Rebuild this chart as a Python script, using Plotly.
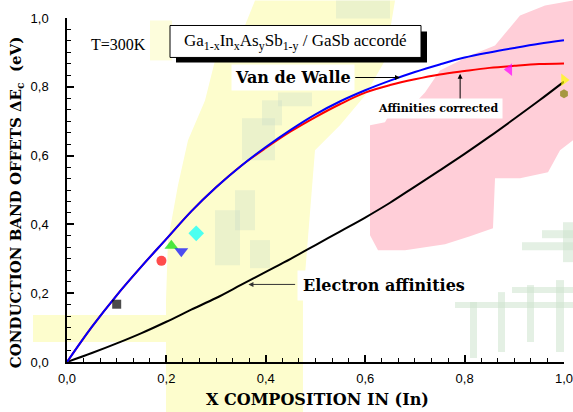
import plotly.graph_objects as go

# ---------------- data ----------------
x_comp = [0.0, 0.05, 0.10, 0.15, 0.20, 0.25, 0.30, 0.35, 0.40, 0.45, 0.50,
          0.55, 0.60, 0.65, 0.70, 0.75, 0.80, 0.85, 0.90, 0.95, 1.0]
van_de_walle = [0.0, 0.102, 0.194, 0.278, 0.358, 0.438, 0.508, 0.570, 0.625, 0.675, 0.720,
                0.758, 0.790, 0.818, 0.843, 0.865, 0.885, 0.900, 0.913, 0.925, 0.935]
aff_corrected = [0.0, 0.102, 0.194, 0.278, 0.358, 0.438, 0.508, 0.570, 0.622, 0.670, 0.712,
                 0.750, 0.783, 0.805, 0.822, 0.836, 0.846, 0.855, 0.861, 0.866, 0.868]
electron_aff = [0.0, 0.026, 0.054, 0.084, 0.117, 0.152, 0.186, 0.224, 0.262, 0.300, 0.340,
                0.380, 0.420, 0.463, 0.510, 0.557, 0.605, 0.655, 0.707, 0.760, 0.815]

exp_x = [0.10, 0.19, 0.21, 0.23, 0.26, 0.89, 1.00, 1.00]
exp_y = [0.168, 0.294, 0.338, 0.322, 0.374, 0.850, 0.820, 0.780]
exp_symbols = ["square", "circle", "triangle-up", "triangle-down", "diamond",
               "triangle-left", "triangle-right", "hexagon"]
exp_colors = ["#000000", "#FF0000", "#00DD00", "#0000FF", "#00FFFF",
              "#FF00FF", "#FFFF00", "#808000"]
exp_sizes = [9, 10, 12, 12, 12, 11, 11, 9]

x_ticks = [0.0, 0.2, 0.4, 0.6, 0.8, 1.0]
x_tick_text = ["0,0", "0,2", "0,4", "0,6", "0,8", "1,0"]
y_ticks = [0.0, 0.2, 0.4, 0.6, 0.8, 1.0]
y_tick_text = ["0,0", "0,2", "0,4", "0,6", "0,8", "1,0"]

# ---------------- layout geometry helpers (pixel -> paper) ----------------
L, R, T, B = 67, 9, 17.5, 50
W, H = 573, 412
PW, PH = W - L - R, H - T - B


def pp(px, py):
    return (px - L) / PW, (H - B - py) / PH


def poly(points):
    pts = [pp(a, b) for a, b in points]
    return "M " + " L ".join(f"{x:.4f},{y:.4f}" for x, y in pts) + " Z"


def rect(x0, y0, x1, y1, color, layer="below", line=None):
    a, b = pp(x0, y1)
    c, d = pp(x1, y0)
    return dict(type="rect", xref="paper", yref="paper", x0=a, y0=b, x1=c, y1=d,
                fillcolor=color, line=line or dict(width=0), layer=layer)


YEL = "rgba(253,253,205,1)"
PINK = "rgba(255,206,216,1)"
GRN = "rgba(205,228,205,0.55)"
GRN2 = "rgba(200,222,200,0.35)"

shapes = []
# yellow watermark blobs
shapes.append(dict(type="path", xref="paper", yref="paper", layer="below", line=dict(width=0),
                   fillcolor=YEL,
                   path=poly([(166, 412), (303, 412), (303, 300), (315, 150), (340, 125),
                              (365, 95), (385, 60), (395, 0), (255, 0), (245, 25),
                              (215, 60), (205, 100), (188, 140), (178, 185), (168, 240),
                              (166, 300)])))
shapes.append(rect(33, 315, 166, 342, YEL))
shapes.append(rect(150, 20, 172, 60, "rgba(253,253,220,1)"))
# pink blob
shapes.append(dict(type="path", xref="paper", yref="paper", layer="below", line=dict(width=0),
                   fillcolor=PINK,
                   path=poly([(370, 125), (385, 122), (392, 110), (410, 108), (425, 92),
                              (440, 70), (470, 55), (495, 45), (520, 15), (545, 5), (573, 0),
                              (573, 140), (560, 150), (548, 172), (520, 178), (495, 178),
                              (493, 228), (470, 236), (445, 244), (405, 250), (378, 250),
                              (370, 235)])))
# greenish blotches (middle)
for (x0, y0, x1, y1) in [(215, 210, 240, 265), (235, 190, 255, 230), (242, 118, 275, 160),
                         (262, 100, 282, 125), (278, 92, 312, 106), (336, 0, 390, 18),
                         (250, 240, 270, 268)]:
    shapes.append(rect(x0, y0, x1, y1, GRN2))
# green strokes (lower right)
for (x0, y0, x1, y1) in [(455, 302, 573, 308), (470, 302, 477, 358), (498, 292, 505, 352),
                         (527, 285, 534, 342), (556, 280, 564, 352), (512, 287, 573, 293),
                         (522, 242, 573, 250), (542, 230, 573, 238), (563, 222, 573, 262)]:
    shapes.append(rect(x0, y0, x1, y1, GRN))

# title box with drop shadow
shapes.append(rect(176, 31, 427, 62, "#000000", layer="above"))
shapes.append(rect(170, 25, 421, 57, "#FFFFFF", layer="above",
                   line=dict(color="#000000", width=1)))

fig = go.Figure()

fig.add_trace(go.Scatter(x=x_comp, y=electron_aff, mode="lines", line_shape="spline",
                         line=dict(color="#000000", width=2), showlegend=False,
                         name="Electron affinities"))
fig.add_trace(go.Scatter(x=x_comp, y=aff_corrected, mode="lines", line_shape="spline",
                         line=dict(color="#FF0000", width=2), showlegend=False,
                         name="Affinities corrected"))
fig.add_trace(go.Scatter(x=x_comp, y=van_de_walle, mode="lines", line_shape="spline",
                         line=dict(color="#0000FF", width=2), showlegend=False,
                         name="Van de Walle"))
fig.add_trace(go.Scatter(x=exp_x, y=exp_y, mode="markers", showlegend=False, cliponaxis=False,
                         marker=dict(symbol=exp_symbols, color=exp_colors, size=exp_sizes,
                                     line=dict(width=0))))

BOLD_SERIF = "DejaVu Serif"
C = dict(xanchor="center", yanchor="middle")
annotations = [
    dict(text="T=300K", xref="paper", yref="paper", x=pp(118, 0)[0], y=pp(0, 44)[1],
         showarrow=False, font=dict(family="Liberation Serif", size=16, color="#000000"), **C),
    dict(text="Ga<sub>1-x</sub>In<sub>x</sub>As<sub>y</sub>Sb<sub>1-y</sub> / GaSb accordé",
         xref="paper", yref="paper", x=pp(295, 0)[0], y=pp(0, 42)[1], showarrow=False,
         font=dict(family="Liberation Serif", size=17, color="#000000"), **C),
    # Van de Walle
    dict(text="<b>Van de Walle</b>", xref="x", yref="y", x=0.670, y=0.827,
         ax=0.580, ay=0.827, axref="x", ayref="y", showarrow=True, arrowhead=2,
         arrowsize=1, arrowwidth=1, arrowcolor="#000000", standoff=0,
         xanchor="right", yanchor="middle", bgcolor="#FFFFFF", borderpad=3,
         font=dict(family=BOLD_SERIF, size=16, color="#000000")),
    # Affinities corrected
    dict(text="", xref="x", yref="y", x=0.791, y=0.838, ax=0.791, ay=0.76,
         axref="x", ayref="y", showarrow=True, arrowhead=2, arrowsize=1, arrowwidth=1,
         arrowcolor="#000000", standoff=0),
    dict(text="<b>Affinities corrected</b>", xref="paper", yref="paper",
         x=pp(438, 0)[0], y=pp(0, 108)[1], showarrow=False, bgcolor="#FFFFFF", borderpad=3,
         font=dict(family=BOLD_SERIF, size=11, color="#000000"), **C),
    # Electron affinities
    dict(text="", xref="x", yref="y", x=0.365, y=0.2255, ax=0.462, ay=0.2255,
         axref="x", ayref="y", showarrow=True, arrowhead=2, arrowsize=1, arrowwidth=1,
         arrowcolor="#333333", standoff=0),
    dict(text="<b>Electron affinities</b>", xref="paper", yref="paper",
         x=pp(384, 0)[0], y=pp(0, 285)[1], showarrow=False, bgcolor="#FFFFFF", borderpad=5,
         font=dict(family=BOLD_SERIF, size=16, color="#000000"), **C),
    # axis titles
    dict(text="<b>X COMPOSITION IN (In)</b>", xref="paper", yref="paper",
         x=pp(317, 0)[0], y=pp(0, 400)[1], showarrow=False,
         font=dict(family=BOLD_SERIF, size=16, color="#000000"), **C),
    dict(text="<b>CONDUCTION BAND OFFETS ΔE<sub>c</sub>  (eV)</b>", xref="paper",
         yref="paper", x=pp(16, 0)[0], y=pp(0, 202)[1], showarrow=False, textangle=-90,
         font=dict(family=BOLD_SERIF, size=15, color="#000000"), **C),
]

axis_common = dict(
    showgrid=False, zeroline=False, showline=True, linecolor="#000000", linewidth=1.5,
    ticks="inside", ticklen=7, tickwidth=1.5, tickcolor="#000000", mirror=False,
    tickfont=dict(family="Liberation Sans", size=13, color="#000000"),
    range=[0, 1], automargin=False, ticklabeloverflow="allow",
    minor=dict(ticks="inside", ticklen=4, tickwidth=1.2, tickcolor="#000000",
               dtick=1 / 30, tick0=0),
)

fig.update_layout(
    width=W, height=H,
    margin=dict(l=L, r=R, t=T, b=B, pad=0),
    paper_bgcolor="#FFFFFF",
    plot_bgcolor="rgba(0,0,0,0)",
    shapes=shapes,
    annotations=annotations,
    showlegend=False,
    xaxis=dict(axis_common, tickvals=x_ticks, ticktext=x_tick_text, ticklabelstandoff=4),
    yaxis=dict(axis_common, tickvals=y_ticks, ticktext=y_tick_text, ticklabelstandoff=14),
)

fig.write_html("out.html", config={"displayModeBar": False},
               post_script="document.body.style.margin='0';document.body.style.padding='0';")
